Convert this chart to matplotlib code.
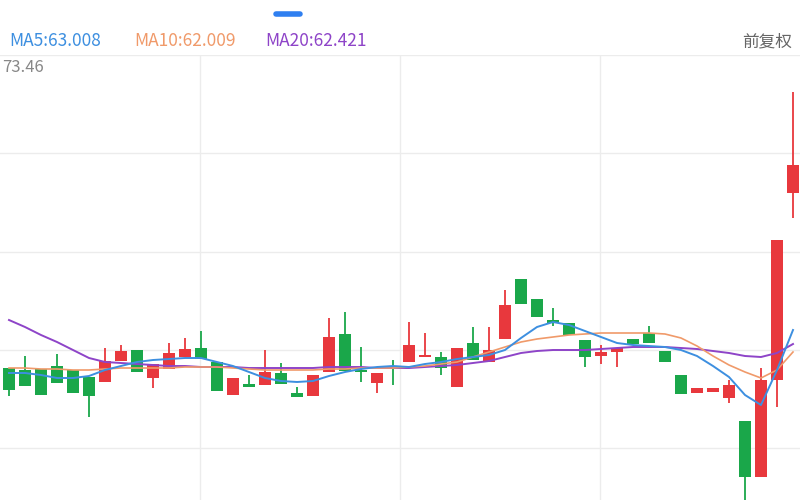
import matplotlib
matplotlib.use("Agg")
import matplotlib.pyplot as plt
import numpy as np

plt.rcParams['font.family'] = ['Noto Sans CJK SC', 'DejaVu Sans']

# Candle readings (screen levels, converted to price below)
open_px  = [368,370,369,366,370,377,382,361,350,378,369,357,348,362,395,384,385,373,393,396,372,334,371,383,366,
            362,357,357,387,343,362,339,279,299,320,323,340,356,352,339,333,351,375,393,392,398,421,477,380,193]
close_px = [390,386,395,383,393,396,361,351,372,364,353,349,359,391,378,387,372,384,397,375,337,371,372,373,368,
            345,355,368,348,360,350,305,304,317,323,335,357,352,348,344,343,362,394,388,388,385,477,380,240,165]
high_px  = [368,356,369,354,370,377,348,345,350,364,343,338,331,362,378,375,350,363,387,375,318,312,347,373,360,
            322,333,352,348,327,327,290,279,299,308,323,340,345,348,339,326,351,375,388,388,380,421,368,240,92]
low_px   = [396,386,395,383,393,417,382,361,372,388,369,357,359,391,395,387,385,384,397,396,372,371,382,393,385,
            362,357,375,387,360,362,339,304,317,326,335,367,364,367,344,343,362,394,393,392,403,500,477,407,218]

ma5_px  = [373,373,375,378,378,376,370,366,362,360,359,358,358,362,366,372,378,381,382,381,376,372,369,367,366,
           367,364,362,359,357,355,350,338,327,322,325,331,337,343,345,346,347,350,356,366,377,395,405,370,330]
ma10_px = [368,368,369,369,370,370,369,368,368,368,368,367,367,367,368,369,370,370,370,370,369,369,368,368,368,
           367,366,364,362,357,352,347,342,339,337,335,334,333,333,333,333,334,338,346,356,365,372,378,370,352]
ma20_px = [320,327,335,342,350,358,362,363,364,365,366,366,367,367,367,368,368,368,368,368,367,367,367,368,368,
           368,367,366,365,363,361,357,353,351,350,350,350,349,348,347,347,347,348,349,351,353,356,357,353,344]

def to_price(v):
    return 73.46 - (np.asarray(v, float) - 55) * 0.0356

o, c, h, l = map(to_price, (open_px, close_px, high_px, low_px))
ma5, ma10, ma20 = map(to_price, (ma5_px, ma10_px, ma20_px))
x = np.arange(len(o))

RED, GREEN = '#e8383d', '#1aa74a'
fig = plt.figure(figsize=(8, 5), dpi=100)
ax = fig.add_axes([0, 0, 1, 0.89])
ax.set_xlim(-0.5625, 49.4375)
ax.set_ylim(to_price(500), 73.46)
for s in ax.spines.values():
    s.set_visible(False)
ax.set_xticks([]); ax.set_yticks([])
for gy in [55, 153, 252, 350, 448]:
    ax.axhline(to_price(gy), color='#ececec', lw=1, zorder=0)
for gx in [200, 400, 600]:
    ax.axvline((gx - 9) / 16, color='#ececec', lw=1, zorder=0)

for i in x:
    col = RED if c[i] >= o[i] else GREEN
    ax.vlines(i, l[i], h[i], color=col, lw=1.3, zorder=2)
    lo, hi = min(o[i], c[i]), max(o[i], c[i])
    ax.bar(i, max(hi - lo, 0.06), bottom=lo, width=0.8, color=col, zorder=3)

ax.plot(x, ma20, color='#8e44c8', lw=1.4, zorder=4)
ax.plot(x, ma10, color='#f09a6a', lw=1.2, zorder=4)
ax.plot(x, ma5, color='#3d8fe0', lw=1.4, zorder=4)

fig.text(0.012, 0.918, 'MA5:63.008', color='#3d8fe0', fontsize=12.5, va='center')
fig.text(0.168, 0.918, 'MA10:62.009', color='#f09a6a', fontsize=12.5, va='center')
fig.text(0.331, 0.918, 'MA20:62.421', color='#8e44c8', fontsize=12.5, va='center')
fig.text(0.99, 0.916, '前复权', color='#666666', fontsize=12, ha='right', va='center')
fig.text(0.003, 0.864, '73.46', color='#888888', fontsize=12, va='center')
fig.add_artist(plt.Line2D([0.345, 0.375], [0.972, 0.972], color='#2f7ff0', lw=4, solid_capstyle='round'))
fig.savefig('out.png', dpi=100, facecolor='white')
